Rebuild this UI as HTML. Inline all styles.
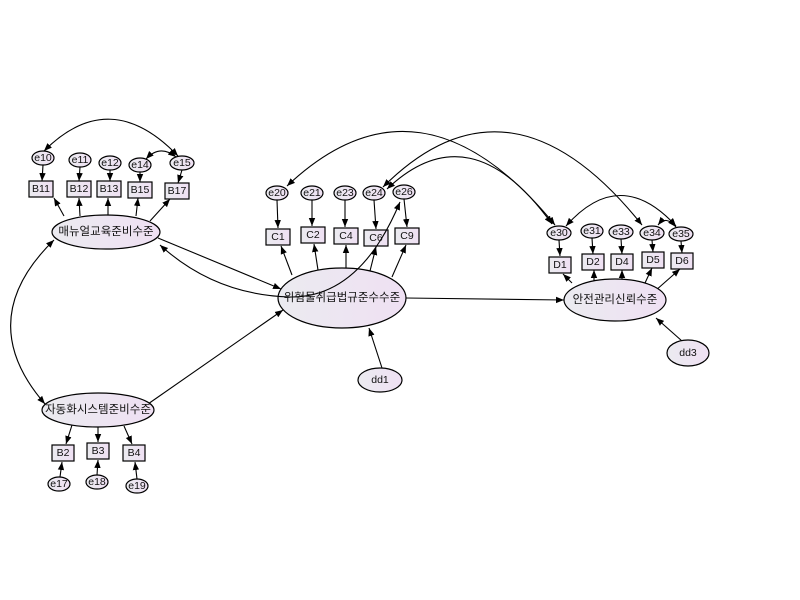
<!DOCTYPE html>
<html><head><meta charset="utf-8"><style>
html,body{margin:0;padding:0;background:#fff;width:800px;height:600px;overflow:hidden}
svg text{font-family:"Liberation Sans","Noto Sans CJK KR",sans-serif;font-size:10.5px;fill:#111;text-anchor:middle;dominant-baseline:central}
svg text.l{font-size:11.5px}
</style></head><body>
<svg width="800" height="600" viewBox="0 0 800 600" xmlns="http://www.w3.org/2000/svg">
<defs>
<linearGradient id="g" x1="0" x2="1"><stop offset="0" stop-color="#ebebf0"/><stop offset="1" stop-color="#efe0f3"/></linearGradient>
<marker id="a" viewBox="0 0 10 10" refX="10" refY="5" markerWidth="8" markerHeight="8" orient="auto-start-reverse" markerUnits="userSpaceOnUse"><path d="M0,1L10,5L0,9z" fill="#000"/></marker>
</defs>
<g stroke="#000" stroke-width="1.1" fill="none">
<line x1="158" y1="238" x2="281" y2="289" marker-end="url(#a)"/>
<line x1="148" y1="404" x2="283" y2="310" marker-end="url(#a)"/>
<path d="M54,240 Q-28,320 45,404" marker-start="url(#a)" marker-end="url(#a)"/>
<line x1="406" y1="298" x2="564" y2="300" marker-end="url(#a)"/>
<line x1="382" y1="368" x2="369" y2="328" marker-end="url(#a)"/>
<line x1="682" y1="341" x2="656" y2="318" marker-end="url(#a)"/>
<line x1="64" y1="216" x2="54" y2="198" marker-end="url(#a)"/>
<line x1="80" y1="216" x2="79" y2="198" marker-end="url(#a)"/>
<line x1="108" y1="215" x2="108" y2="198" marker-end="url(#a)"/>
<line x1="136" y1="216" x2="138" y2="198" marker-end="url(#a)"/>
<line x1="150" y1="221" x2="170" y2="199" marker-end="url(#a)"/>
<line x1="43" y1="165" x2="42" y2="181" marker-end="url(#a)"/>
<line x1="80" y1="167" x2="79" y2="181" marker-end="url(#a)"/>
<line x1="110" y1="170" x2="110" y2="181" marker-end="url(#a)"/>
<line x1="140" y1="172" x2="140" y2="182" marker-end="url(#a)"/>
<line x1="182" y1="170" x2="178" y2="183" marker-end="url(#a)"/>
<path d="M44,151 Q110,85 178,156" marker-start="url(#a)" marker-end="url(#a)"/>
<path d="M146,159 Q160,144 176,157" marker-start="url(#a)" marker-end="url(#a)"/>
<line x1="72" y1="425" x2="66" y2="444" marker-end="url(#a)"/>
<line x1="98" y1="427" x2="98" y2="442" marker-end="url(#a)"/>
<line x1="124" y1="426" x2="132" y2="444" marker-end="url(#a)"/>
<line x1="60" y1="477" x2="62" y2="462" marker-end="url(#a)"/>
<line x1="97" y1="475" x2="98" y2="460" marker-end="url(#a)"/>
<line x1="137" y1="479" x2="135" y2="462" marker-end="url(#a)"/>
<line x1="292" y1="275" x2="281" y2="246" marker-end="url(#a)"/>
<line x1="318" y1="270" x2="314" y2="244" marker-end="url(#a)"/>
<line x1="346" y1="269" x2="346" y2="245" marker-end="url(#a)"/>
<line x1="370" y1="271" x2="376" y2="247" marker-end="url(#a)"/>
<line x1="392" y1="277" x2="406" y2="245" marker-end="url(#a)"/>
<line x1="277" y1="200" x2="278" y2="228" marker-end="url(#a)"/>
<line x1="312" y1="200" x2="312" y2="226" marker-end="url(#a)"/>
<line x1="345" y1="200" x2="345" y2="227" marker-end="url(#a)"/>
<line x1="374" y1="200" x2="376" y2="229" marker-end="url(#a)"/>
<line x1="404" y1="199" x2="407" y2="227" marker-end="url(#a)"/>
<line x1="572" y1="283" x2="563" y2="274" marker-end="url(#a)"/>
<line x1="594" y1="281" x2="594" y2="270" marker-end="url(#a)"/>
<line x1="622" y1="280" x2="622" y2="270" marker-end="url(#a)"/>
<line x1="645" y1="283" x2="652" y2="268" marker-end="url(#a)"/>
<line x1="655" y1="291" x2="680" y2="269" marker-end="url(#a)"/>
<line x1="559" y1="240" x2="560" y2="256" marker-end="url(#a)"/>
<line x1="592" y1="238" x2="593" y2="254" marker-end="url(#a)"/>
<line x1="621" y1="239" x2="622" y2="254" marker-end="url(#a)"/>
<line x1="652" y1="240" x2="653" y2="252" marker-end="url(#a)"/>
<line x1="681" y1="241" x2="682" y2="253" marker-end="url(#a)"/>
<path d="M287,186 Q420,60 555,225" marker-start="url(#a)" marker-end="url(#a)"/>
<path d="M383,187 Q510,60 642,225" marker-start="url(#a)" marker-end="url(#a)"/>
<path d="M387,189 Q470,110 552,224" marker-start="url(#a)" marker-end="url(#a)"/>
<path d="M566,226 Q620,165 676,226" marker-start="url(#a)" marker-end="url(#a)"/>
<path d="M658,225 Q666,215 676,227" marker-start="url(#a)" marker-end="url(#a)"/>
</g>
<g stroke="#000" stroke-width="1.2" fill="url(#g)">
<ellipse cx="106" cy="232" rx="54" ry="17"/>
<ellipse cx="98" cy="410" rx="56" ry="17"/>
<ellipse cx="342" cy="298" rx="64" ry="30"/>
<ellipse cx="615" cy="300" rx="51" ry="21"/>
<ellipse cx="380" cy="380" rx="22" ry="12"/>
<ellipse cx="688" cy="353" rx="21" ry="13"/>
<ellipse cx="43" cy="158" rx="11" ry="7"/><ellipse cx="80" cy="160" rx="11" ry="7"/><ellipse cx="110" cy="163" rx="11" ry="7"/><ellipse cx="140" cy="165" rx="11" ry="7"/><ellipse cx="182" cy="163" rx="12" ry="7"/>
<ellipse cx="277" cy="193" rx="11" ry="7"/><ellipse cx="312" cy="193" rx="11" ry="7"/><ellipse cx="345" cy="193" rx="11" ry="7"/><ellipse cx="374" cy="193" rx="11" ry="7"/><ellipse cx="404" cy="192" rx="11" ry="7"/>
<ellipse cx="559" cy="233" rx="12" ry="7"/><ellipse cx="592" cy="231" rx="11" ry="7"/><ellipse cx="621" cy="232" rx="12" ry="7"/><ellipse cx="652" cy="233" rx="12" ry="7"/><ellipse cx="681" cy="234" rx="12" ry="7"/>
<ellipse cx="59" cy="484" rx="11" ry="7"/><ellipse cx="97" cy="482" rx="11" ry="7"/><ellipse cx="137" cy="486" rx="11" ry="7"/>
<rect x="29" y="181" width="24" height="16"/><rect x="67" y="181" width="24" height="16"/><rect x="97" y="181" width="24" height="16"/><rect x="128" y="182" width="24" height="16"/><rect x="165" y="183" width="24" height="16"/>
<rect x="266" y="229" width="24" height="16"/><rect x="301" y="227" width="24" height="16"/><rect x="334" y="228" width="24" height="16"/><rect x="364" y="230" width="24" height="16"/><rect x="395" y="228" width="24" height="16"/>
<rect x="549" y="257" width="22" height="16"/><rect x="582" y="254" width="22" height="16"/><rect x="611" y="254" width="22" height="16"/><rect x="642" y="252" width="22" height="16"/><rect x="671" y="253" width="22" height="16"/>
<rect x="52" y="445" width="22" height="16"/><rect x="87" y="443" width="22" height="16"/><rect x="123" y="445" width="22" height="16"/>
</g>
<path d="M400,202 Q360,298 290,297 Q215,295 160,245" stroke="#000" stroke-width="1.1" fill="none" marker-start="url(#a)" marker-end="url(#a)"/>
<g>
<text class="l" x="106" y="232">매뉴얼교육준비수준</text>
<text class="l" x="98" y="410">자동화시스템준비수준</text>
<text class="l" x="342" y="298">위험물취급법규준수수준</text>
<text class="l" x="615" y="300">안전관리신뢰수준</text>
<text x="380" y="380">dd1</text><text x="688" y="353">dd3</text>
<text x="43" y="158">e10</text><text x="80" y="160">e11</text><text x="110" y="163">e12</text><text x="140" y="165">e14</text><text x="182" y="163">e15</text>
<text x="277" y="193">e20</text><text x="312" y="193">e21</text><text x="345" y="193">e23</text><text x="374" y="193">e24</text><text x="404" y="192">e26</text>
<text x="559" y="233">e30</text><text x="592" y="231">e31</text><text x="621" y="232">e33</text><text x="652" y="233">e34</text><text x="681" y="234">e35</text>
<text x="59" y="484">e17</text><text x="97" y="482">e18</text><text x="137" y="486">e19</text>
<text x="41" y="189">B11</text><text x="79" y="189">B12</text><text x="109" y="189">B13</text><text x="140" y="190">B15</text><text x="177" y="191">B17</text>
<text x="278" y="237">C1</text><text x="313" y="235">C2</text><text x="346" y="236">C4</text><text x="376" y="238">C6</text><text x="407" y="236">C9</text>
<text x="560" y="265">D1</text><text x="593" y="262">D2</text><text x="622" y="262">D4</text><text x="653" y="260">D5</text><text x="682" y="261">D6</text>
<text x="63" y="453">B2</text><text x="98" y="451">B3</text><text x="134" y="453">B4</text>
</g>
</svg>
</body></html>
